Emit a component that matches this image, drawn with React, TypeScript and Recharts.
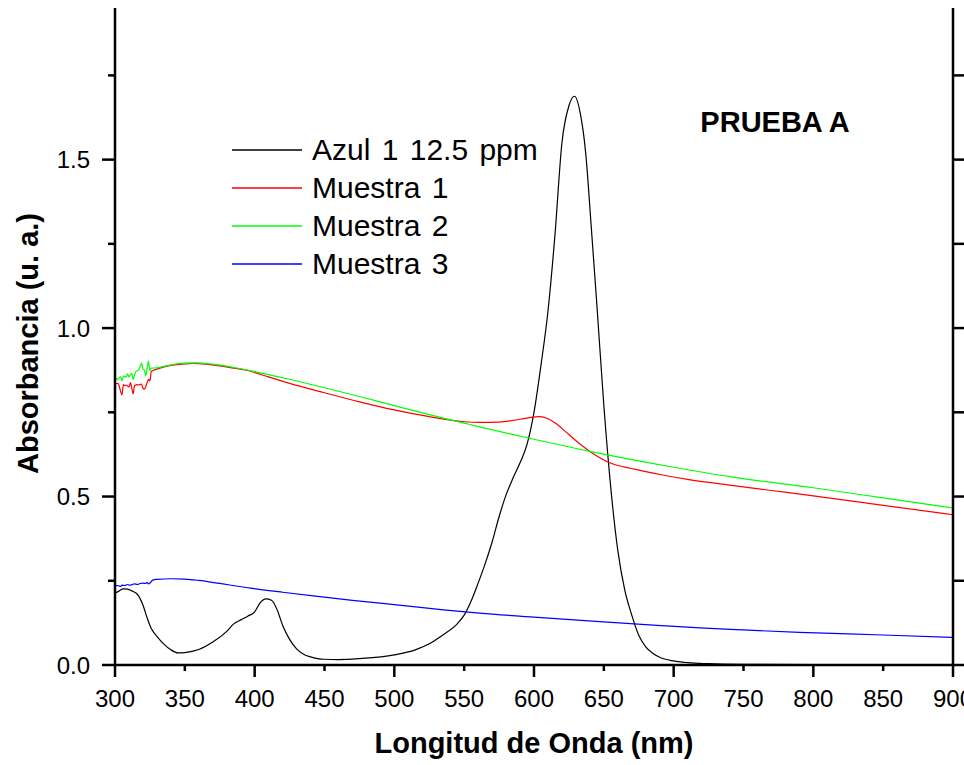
import React from 'react';
import {Label, Legend, Line, LineChart, XAxis, YAxis} from 'recharts';

const FONT = "Arial, 'Liberation Sans', Helvetica, sans-serif";

const wavelengthTicks = [300, 350, 400, 450, 500, 550, 600, 650, 700, 750, 800, 850, 900];
const absorbanceTicks = [0, 0.25, 0.5, 0.75, 1, 1.25, 1.5, 1.75];

// Azul 1 12.5 ppm
const azulX = [300, 303, 306, 309, 312, 316, 320, 323, 326, 330, 335, 340, 345, 350, 360, 370, 380, 385, 390, 395,
    400, 404, 408, 412, 416, 420, 425, 430, 435, 440, 445, 450, 460, 475, 500, 515, 525, 535, 545, 550,
    555, 560, 565, 570, 575, 580, 585, 590, 595, 600, 605, 610, 615, 620, 625, 629, 633, 637, 641, 645,
    650, 655, 660, 665, 670, 675, 680, 685, 690, 700, 710, 725, 750, 800, 850, 900];
const azulY = [0.213, 0.220, 0.226, 0.225, 0.220, 0.210, 0.178, 0.140, 0.108, 0.085, 0.062, 0.045, 0.036, 0.037, 0.046, 0.068, 0.100, 0.122, 0.134, 0.145,
    0.158, 0.185, 0.196, 0.192, 0.165, 0.118, 0.076, 0.048, 0.032, 0.024, 0.019, 0.017, 0.016, 0.019, 0.030, 0.045, 0.063, 0.090, 0.122, 0.148,
    0.190, 0.243, 0.300, 0.365, 0.440, 0.505, 0.555, 0.600, 0.655, 0.750, 0.890, 1.050, 1.276, 1.550, 1.660, 1.688, 1.640, 1.520, 1.300, 1.070,
    0.770, 0.525, 0.340, 0.222, 0.148, 0.088, 0.054, 0.035, 0.023, 0.012, 0.007, 0.004, 0.002, 0.001, 0.000, 0.000];

// Muestra 1
const m1X = [300, 301, 302, 303, 304, 305, 306, 307, 308, 309, 310, 311, 312, 313, 314, 315, 316, 317, 318, 319, 320, 321, 322, 323, 324, 325, 326,
    330, 340, 350, 356, 365, 375, 385, 395, 400, 410, 425, 450, 475, 500, 525, 550, 561, 575, 585, 595,
    604, 610, 616, 622, 628, 634, 640, 646, 652, 660, 669, 680, 692, 710, 740, 770, 800, 850, 900];
const m1Y = [0.838, 0.835, 0.836, 0.828, 0.812, 0.802, 0.832, 0.829, 0.831, 0.828, 0.825, 0.838, 0.822, 0.805, 0.830, 0.831, 0.832, 0.831, 0.832, 0.834, 0.822, 0.819, 0.826, 0.838, 0.848, 0.843, 0.871,
    0.878, 0.889, 0.894, 0.895, 0.893, 0.888, 0.881, 0.874, 0.868, 0.855, 0.836, 0.808, 0.781, 0.757, 0.737, 0.722, 0.720, 0.721, 0.726, 0.733,
    0.737, 0.731, 0.716, 0.695, 0.673, 0.652, 0.634, 0.618, 0.604, 0.592, 0.584, 0.574, 0.564, 0.551, 0.534, 0.518, 0.502, 0.474, 0.446];

// Muestra 2
const m2X = [300, 301, 302, 303, 304, 305, 306, 307, 308, 309, 310, 311, 312, 313, 314, 315, 316, 317, 318, 319, 320, 321, 322, 323, 324, 325, 326,
    330, 340, 350, 358, 370, 385, 400, 425, 450, 475, 500, 525, 550, 561, 600, 640, 700, 740, 800, 850, 900];
const m2Y = [0.852, 0.850, 0.847, 0.853, 0.855, 0.844, 0.858, 0.856, 0.855, 0.864, 0.855, 0.861, 0.866, 0.847, 0.861, 0.871, 0.874, 0.876, 0.886, 0.896, 0.878, 0.876, 0.858, 0.881, 0.901, 0.874, 0.881,
    0.882, 0.891, 0.896, 0.897, 0.893, 0.883, 0.871, 0.848, 0.823, 0.797, 0.770, 0.743, 0.718, 0.707, 0.670, 0.634, 0.587, 0.559, 0.526, 0.496, 0.466];

// Muestra 3
const m3X = [300, 302, 304, 305, 307, 309, 310, 312, 314, 316, 318, 320, 322, 323, 324, 325, 327, 330, 340, 350,
    360, 375, 394, 420, 442, 470, 500, 537, 561, 600, 647, 680, 719, 750, 790, 850, 900];
const m3Y = [0.235, 0.236, 0.233, 0.237, 0.236, 0.239, 0.237, 0.238, 0.241, 0.239, 0.242, 0.243, 0.242, 0.245, 0.241, 0.243, 0.252, 0.254, 0.256, 0.255,
    0.251, 0.242, 0.230, 0.216, 0.205, 0.192, 0.179, 0.163, 0.154, 0.142, 0.129, 0.120, 0.110, 0.104, 0.097, 0.089, 0.082];

const toPoints = (xs: number[], ys: number[]) => xs.map((x, i) => ({x, y: ys[i]}));

const series = [
    {name: 'Azul 1 12.5 ppm', color: '#000000', data: toPoints(azulX, azulY)},
    {name: 'Muestra 1', color: '#ff0000', data: toPoints(m1X, m1Y)},
    {name: 'Muestra 2', color: '#00ff00', data: toPoints(m2X, m2Y)},
    {name: 'Muestra 3', color: '#0000ff', data: toPoints(m3X, m3Y)},
];

const isMajorY = (v: number) => Math.abs(v * 2 - Math.round(v * 2)) < 1e-6;

const XTick = (props: any) => {
    const {x, y, payload} = props;
    const major = payload.value % 100 === 0;
    return (
        <g>
            <line x1={x} x2={x} y1={y} y2={y + (major ? 12 : 6)} stroke="#000" strokeWidth={2.5}/>
            <text x={x} y={y + 42} textAnchor="middle" fontSize={24} fontFamily={FONT} fill="#000">{payload.value}</text>
        </g>
    );
};

const YTick = (props: any) => {
    const {x, y, payload} = props;
    const major = isMajorY(payload.value);
    return (
        <g>
            <line x1={x - (major ? 13 : 7)} x2={x} y1={y} y2={y} stroke="#000" strokeWidth={2.5}/>
            {major && (
                <text x={x - 25} y={y + 8.6} textAnchor="end" fontSize={24} fontFamily={FONT} fill="#000">
                    {payload.value.toFixed(1)}
                </text>
            )}
        </g>
    );
};

const RightTick = (props: any) => {
    const {x, y, payload} = props;
    const major = isMajorY(payload.value);
    return <line x1={x} x2={x + (major ? 12 : 11)} y1={y} y2={y} stroke="#000" strokeWidth={2.5}/>;
};

const XTitle = (props: any) => {
    const vb = props.viewBox || {x: 115, y: 665, width: 838, height: 100};
    return (
        <text x={vb.x + vb.width / 2} y={vb.y + 88} textAnchor="middle" fontSize={29} fontWeight="bold"
              fontFamily={FONT} fill="#000">Longitud de Onda (nm)</text>
    );
};

const YTitle = (props: any) => {
    const vb = props.viewBox || {x: 0, y: 8, width: 115, height: 657};
    const cx = vb.x + 38;
    const cy = vb.y + vb.height / 2 + 7;
    return (
        <text x={cx} y={cy} transform={`rotate(-90, ${cx}, ${cy})`} textAnchor="middle" fontSize={29}
              fontWeight="bold" fontFamily={FONT} fill="#000">Absorbancia (u. a.)</text>
    );
};

const LegendBox = () => (
    <div style={{fontFamily: FONT, fontSize: 30, color: '#000'}}>
        {series.map(s => (
            <div key={s.name} style={{display: 'flex', alignItems: 'center', height: 38, lineHeight: '38px'}}>
                <svg width={70} height={2} style={{display: 'block'}}>
                    <line x1={0} x2={70} y1={1} y2={1} stroke={s.color} strokeWidth={1.5}/>
                </svg>
                <span style={{marginLeft: 10, whiteSpace: 'nowrap', wordSpacing: 3}}>{s.name}</span>
            </div>
        ))}
    </div>
);

const App = () => {
    return (
        <div style={{position: 'absolute', left: 0, top: 0, background: '#fff'}}>
            <LineChart width={964} height={765} margin={{top: 8, right: 0, bottom: 0, left: 0}}>
                <XAxis dataKey="x" type="number" domain={[300, 900]} ticks={wavelengthTicks} interval={0}
                       allowDataOverflow height={100} tickSize={0} tickMargin={0} tickLine={false}
                       axisLine={{stroke: '#000', strokeWidth: 2.5}} tick={(p: any) => <XTick {...p}/>}>
                    <Label content={<XTitle/>}/>
                </XAxis>
                <YAxis yAxisId="l" type="number" domain={[0, 1.95]} ticks={absorbanceTicks} interval={0}
                       allowDataOverflow width={115} tickSize={0} tickMargin={0} tickLine={false}
                       axisLine={{stroke: '#000', strokeWidth: 2.5}} tick={(p: any) => <YTick {...p}/>}>
                    <Label content={<YTitle/>}/>
                </YAxis>
                <YAxis yAxisId="r" orientation="right" type="number" domain={[0, 1.95]} ticks={absorbanceTicks}
                       interval={0} allowDataOverflow width={11} tickSize={0} tickMargin={0} tickLine={false}
                       axisLine={{stroke: '#000', strokeWidth: 2.5}} tick={(p: any) => <RightTick {...p}/>}/>
                <Legend layout="vertical" align="center" verticalAlign="middle" content={<LegendBox/>}
                        wrapperStyle={{position: 'absolute', left: 232, top: 131, width: 'auto', height: 'auto'}}/>
                {series.map(s => (
                    <Line key={s.name} yAxisId="l" data={s.data} dataKey="y" name={s.name} type="monotone"
                          stroke={s.color} strokeWidth={1.2} dot={false} activeDot={false}
                          isAnimationActive={false}/>
                ))}
                <text x={775} y={132} textAnchor="middle" fontSize={29} fontWeight="bold" fontFamily={FONT}
                      fill="#000">PRUEBA A</text>
            </LineChart>
        </div>
    );
};

export default App;
